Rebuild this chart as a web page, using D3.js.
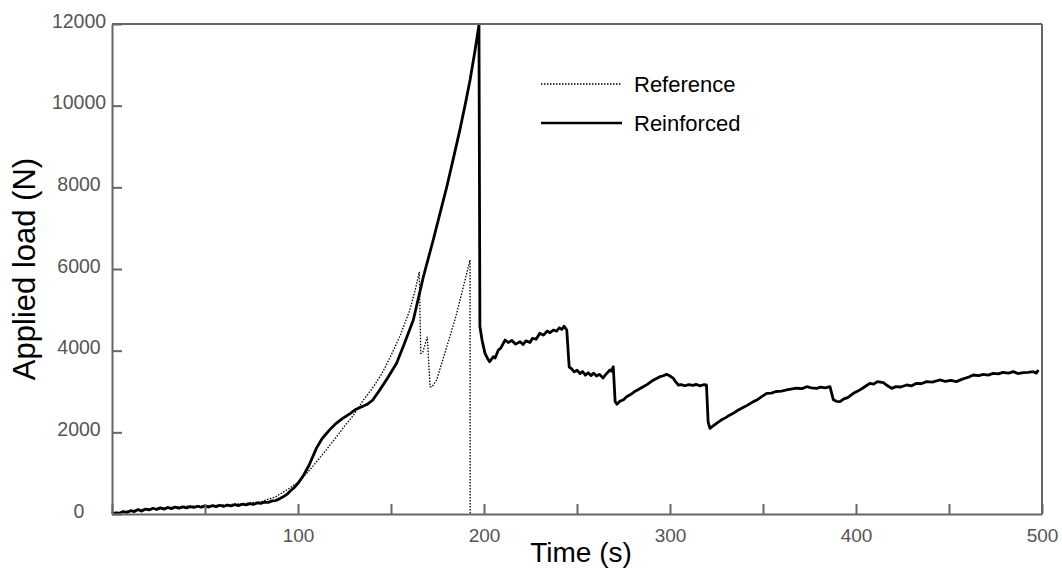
<!DOCTYPE html>
<html>
<head>
<meta charset="utf-8">
<script src="https://cdn.jsdelivr.net/npm/d3@7"></script>
<style>
  html, body { margin: 0; padding: 0; background: #fff; }
  svg { display: block; font-family: "Liberation Sans", Arial, Helvetica, sans-serif; }
</style>
</head>
<body>
<svg id="chart" width="1062" height="572"></svg>
<script>
// ---- Data ----
const seriesNames = ["Reference", "Reinforced"];

const refTime = [0, 10, 20, 30, 40, 50, 60, 70, 80, 88, 95, 100, 105, 110, 115, 120, 125, 130, 135, 140,
  145, 150, 155, 160, 163, 165.2, 166, 167, 169.5, 171, 172, 174.5, 177, 180, 183, 185.3, 188, 190.7, 192.5, 192.6];
const refLoad = [0, 80, 130, 160, 190, 200, 220, 250, 300, 420, 620, 780, 1010, 1280, 1560, 1850, 2150, 2430, 2780, 3080,
  3430, 3880, 4380, 4980, 5480, 5930, 3935, 3950, 4340, 3120, 3110, 3280, 3650, 4100, 4550, 4910, 5400, 5890, 6220, 0];

const reinTime = [0, 2, 4, 6, 8, 10, 12, 14, 16, 18, 20, 22, 24, 26, 28, 30, 32, 34, 36, 38, 40, 42, 44, 46, 48,
  50, 52, 54, 56, 58, 60, 62, 64, 66, 68, 70, 72, 74, 76, 78, 80, 82, 84, 86, 88, 90, 92, 94, 96, 98,
  100, 103, 106, 110, 113, 117, 120, 124, 128, 131, 134, 137, 140, 144, 148, 153, 157, 162, 167.4, 172.7,
  176, 180, 184, 187, 190, 192.5, 195, 197.3, 197.8, 199, 200.5, 202, 203, 205, 206, 207.7, 209, 211.3, 213,
  215, 217, 219.4, 221, 222.5, 224.7, 226, 228, 230, 232, 234, 235.5, 237.3, 239, 240.5, 241.8, 243, 244.5,
  245.8, 247, 248.5, 250, 251.6, 253, 254.5, 256, 257.5, 259, 260.5, 262, 264, 265.5, 267.7, 268.5, 269.5,
  270.5, 271.5, 273, 275, 276.7, 279, 281, 283, 285.6, 288, 290, 292, 294.6, 296, 298.2, 300, 301.8, 303,
  304.5, 306, 308, 310, 312.5, 314, 316, 318, 319.6, 320.5, 321.5, 323, 325, 327.5, 330, 332, 334, 336.5,
  339, 341.5, 344.8, 347, 349.5, 352, 354.5, 357, 360, 362.7, 365, 368, 371, 373.5, 376, 378.9, 381, 383.5,
  386, 387.8, 389.5, 391.4, 393.5, 395.5, 398.6, 401, 403.5, 405.5, 407.5, 409.5, 411.5, 414.7, 417, 419.2,
  421.5, 424, 427.3, 430, 432.5, 435, 438, 441, 445, 448, 451, 454, 456.5, 459, 461, 463, 466, 468.5, 471,
  473.8, 476.5, 479, 482, 484.6, 487, 490, 492.5, 495.3, 497, 498];
const reinLoad = [0, 30, 20, 60, 40, 80, 60, 110, 70, 120, 100, 140, 110, 150, 120, 160, 130, 170, 140, 175, 150, 180, 160, 190, 165,
  200, 170, 205, 180, 215, 185, 220, 200, 230, 205, 240, 225, 255, 235, 270, 260, 290, 285, 320, 330, 370, 420, 480, 570, 650,
  750, 950, 1200, 1620, 1850, 2060, 2200, 2340, 2460, 2560, 2620, 2680, 2780, 3040, 3320, 3690, 4150, 4750, 5810, 6710,
  7300, 8015, 8800, 9400, 10050, 10630, 11300, 11975, 4590, 4250, 3940, 3800, 3730, 3850, 3820, 4016, 4060, 4260, 4200,
  4250, 4160, 4220, 4150, 4240, 4200, 4300, 4280, 4425, 4380, 4480, 4440, 4506, 4480, 4560, 4520, 4600, 4506,
  3600, 3560, 3480, 3520, 3440, 3490, 3400, 3460, 3390, 3450, 3380, 3420, 3330, 3420, 3527, 3500, 3608,
  2750, 2690, 2760, 2800, 2874, 2930, 3000, 3050, 3118, 3180, 3250, 3300, 3363, 3380, 3420, 3380, 3322, 3240,
  3159, 3170, 3140, 3170, 3150, 3175, 3140, 3165, 3159, 2250, 2099, 2150, 2221, 2300, 2360, 2420, 2466, 2540,
  2600, 2660, 2752, 2800, 2880, 2956, 2960, 3000, 3010, 3037, 3060, 3080, 3070, 3118, 3090, 3077, 3110, 3090,
  3118, 2800, 2760, 2752, 2820, 2850, 2956, 3010, 3080, 3140, 3200, 3180, 3240, 3216, 3140, 3077,
  3120, 3110, 3159, 3140, 3200, 3190, 3241, 3230, 3282, 3250, 3270, 3241, 3290, 3330, 3360, 3404, 3390, 3420, 3400,
  3445, 3430, 3470, 3450, 3486, 3440, 3460, 3470, 3486, 3450, 3527];

const xTicks = [0, 50, 100, 150, 200, 250, 300, 350, 400, 450, 500];
const xTickLabels = ["", "", "100", "", "200", "", "300", "", "400", "", "500"];
const yTicks = [0, 2000, 4000, 6000, 8000, 10000, 12000];
const yTickLabels = ["0", "2000", "4000", "6000", "8000", "10000", "12000"];

// ---- Chart ----
const svg = d3.select("#chart");
const mLeft = 112, mRight = 1042, mTop = 24, mBottom = 514;
const axisColor = "#666666";
const labelColor = "#555555";

const x = d3.scaleLinear().domain([0, 500]).range([mLeft, mRight]);
const y = d3.scaleLinear().domain([0, 12000]).range([mBottom, mTop]);

const ref = refTime.map((t, i) => [t, refLoad[i]]);
const rein = reinTime.map((t, i) => [t, reinLoad[i]]);

const line = d3.line().x(d => x(d[0])).y(d => y(d[1]));

// series
svg.append("path").datum(ref)
  .attr("d", line).attr("fill", "none")
  .attr("stroke", "#000").attr("stroke-width", 1.3)
  .attr("stroke-dasharray", "1.5,1.5");

svg.append("path").datum(rein)
  .attr("d", line).attr("fill", "none")
  .attr("stroke", "#000").attr("stroke-width", 2.8)
  .attr("stroke-linejoin", "round");

// frame (top and right)
svg.append("line").attr("x1", mLeft).attr("x2", mRight).attr("y1", mTop).attr("y2", mTop)
  .attr("stroke", axisColor).attr("stroke-width", 2);
svg.append("line").attr("x1", mRight).attr("x2", mRight).attr("y1", mTop).attr("y2", mBottom)
  .attr("stroke", axisColor).attr("stroke-width", 2);

// x axis (inward ticks)
const xAxis = d3.axisBottom(x).tickValues(xTicks).tickSizeInner(-10).tickSizeOuter(0)
  .tickFormat((d, i) => xTickLabels[i]).tickPadding(15);
const gx = svg.append("g").attr("transform", `translate(0,${mBottom})`).call(xAxis);
gx.select(".domain").attr("stroke", axisColor).attr("stroke-width", 2);
gx.selectAll(".tick line").attr("stroke", axisColor).attr("stroke-width", 2);
gx.selectAll(".tick text").attr("fill", labelColor).attr("font-size", 19)
  .attr("font-family", "Liberation Sans, Arial, sans-serif");

// y axis (inward ticks)
const yAxis = d3.axisLeft(y).tickValues(yTicks).tickSizeInner(-10).tickSizeOuter(0)
  .tickFormat((d, i) => yTickLabels[i]).tickPadding(0);
const gy = svg.append("g").attr("transform", `translate(${mLeft},0)`).call(yAxis);
gy.select(".domain").attr("stroke", axisColor).attr("stroke-width", 2);
gy.selectAll(".tick line").attr("stroke", axisColor).attr("stroke-width", 2);
gy.selectAll(".tick text").attr("fill", labelColor).attr("font-size", 19.5)
  .attr("font-family", "Liberation Sans, Arial, sans-serif")
  .attr("text-anchor", "middle").attr("x", -33).attr("dy", "0.17em");

// axis titles
svg.append("text").attr("x", 581).attr("y", 562)
  .attr("text-anchor", "middle").attr("font-size", 28).attr("fill", "#000")
  .text("Time (s)");
svg.append("text")
  .attr("transform", `translate(35,${(mTop + mBottom) / 2}) rotate(-90)`)
  .attr("text-anchor", "middle").attr("font-size", 31).attr("fill", "#000")
  .text("Applied load (N)");

// legend
const legY = [84, 123];
const legStyles = [{w: 1.3, dash: "1.5,1.5"}, {w: 2.6, dash: null}];
seriesNames.forEach((name, i) => {
  svg.append("line").attr("x1", 541).attr("x2", 622).attr("y1", legY[i]).attr("y2", legY[i])
    .attr("stroke", "#000").attr("stroke-width", legStyles[i].w)
    .attr("stroke-dasharray", legStyles[i].dash);
  svg.append("text").attr("x", 634).attr("y", legY[i]).attr("dy", "0.35em")
    .attr("font-size", 22).attr("fill", "#000").text(name);
});
</script>
</body>
</html>
